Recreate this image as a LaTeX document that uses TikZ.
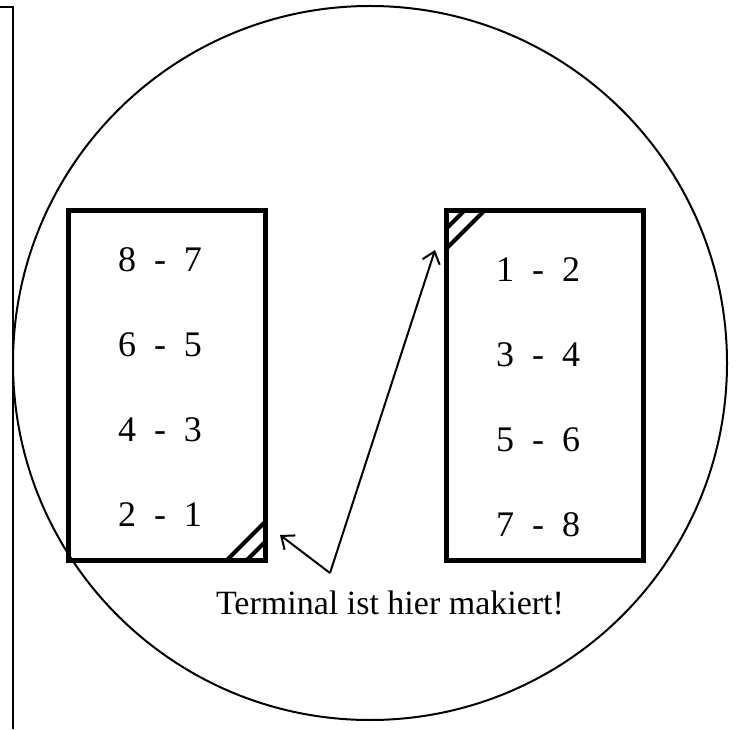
\documentclass[tikz,border=0pt]{standalone}
\usepackage{fontspec}
\setmainfont{Liberation Serif}
\usepackage{tikz}
\usetikzlibrary{arrows.meta}

\begin{document}
\begin{tikzpicture}[x=1pt,y=1pt,
  box/.style={draw, line width=5pt, minimum width=197pt, minimum height=349pt, inner sep=0pt, outer sep=0pt},
  pair/.style={font=\fontsize{36}{40}\selectfont},
  hatchline/.style={line width=4pt},
  pointer/.style={line width=2pt, -{Straight Barb[length=11pt,width=18pt]}}]
\useasboundingbox (0,0) rectangle (736,729);
\draw[line width=1.5pt] (0,722) -- (13,722) -- (13,0);
\node[draw, circle, line width=2pt, minimum size=714pt, inner sep=0pt] (ring) at (370,366) {};
\node[box] (L) at (166.5,343.5) {};
\node[box] (R) at (544.5,343.5) {};
\node[pair] (l1) at (160,469) {8 \ - \ 7};
\node[pair] (l2) at (160,384) {6 \ - \ 5};
\node[pair] (l3) at (160,299) {4 \ - \ 3};
\node[pair] (l4) at (160,214) {2 \ - \ 1};
\node[pair] (r1) at (538,459) {1 \ - \ 2};
\node[pair] (r2) at (538,374) {3 \ - \ 4};
\node[pair] (r3) at (538,289) {5 \ - \ 6};
\node[pair] (r4) at (538,204) {7 \ - \ 8};
\draw[hatchline] ([xshift=-38pt]L.south east) -- ([yshift=38pt]L.south east);
\draw[hatchline] ([xshift=-18pt]L.south east) -- ([yshift=18pt]L.south east);
\draw[hatchline] ([xshift=38pt]R.north west) -- ([yshift=-38pt]R.north west);
\draw[hatchline] ([xshift=18pt]R.north west) -- ([yshift=-18pt]R.north west);
\coordinate (src) at (330,156);
\coordinate (tipL) at (280,194);
\coordinate (tipR) at (435,479);
\draw[pointer] (src) -- (tipL);
\draw[pointer] (src) -- (tipR);
\node[font=\fontsize{34}{38}\selectfont] (note) at (390,126) {Terminal ist hier makiert!};
\end{tikzpicture}
\end{document}
